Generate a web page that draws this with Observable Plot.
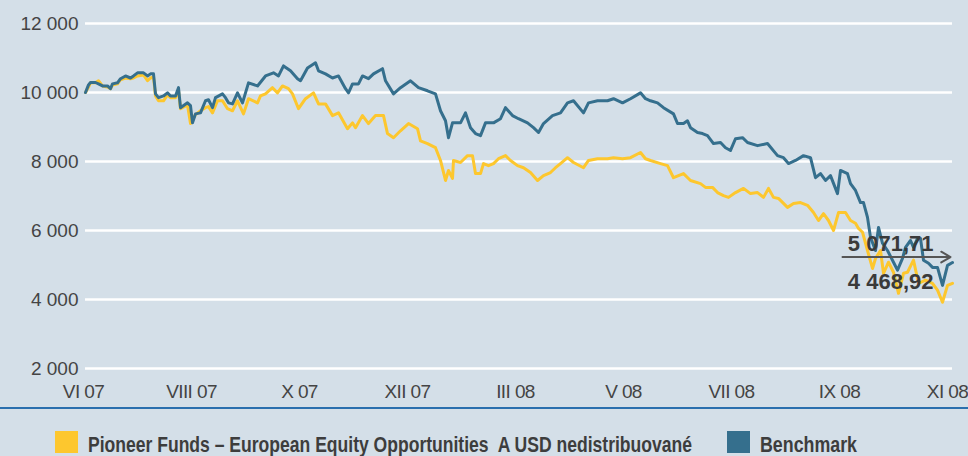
<!DOCTYPE html>
<html>
<head>
<meta charset="utf-8">
<script src="https://cdn.jsdelivr.net/npm/d3@7"></script>
<script src="https://cdn.jsdelivr.net/npm/@observablehq/plot@0.6"></script>
<style>
  html, body { margin: 0; padding: 0; background: #d4dfe8; }
  #wrap { position: relative; width: 968px; height: 456px; overflow: hidden; background: #d4dfe8; }
  #chart svg { display: block; }
  #rule { position: absolute; left: 0; top: 407px; width: 968px; height: 2px; background: #2a6fae; }
  .sw { position: absolute; top: 431px; width: 23px; height: 22px; }
  .lt { position: absolute; top: 434px; display: inline-block; font: bold 22px/22px "Liberation Sans Narrow", "Liberation Sans", sans-serif; color: #3d3d3d; white-space: pre; transform-origin: 0 0; }
</style>
</head>
<body>
<div id="wrap">
  <div id="chart"></div>
  <div id="rule"></div>
  <div class="sw" id="sw1" style="left:55px"></div>
  <span class="lt" id="lt1" style="left:88px"></span>
  <div class="sw" id="sw2" style="left:727px"></div>
  <span class="lt" id="lt2" style="left:760px"></span>
</div>
<script>
// ---- data ----
const seriesNames = ["Pioneer Funds \u2013 European Equity Opportunities  A USD nedistribuované", "Benchmark"];
const seriesColors = ["#fdc72e", "#356f8d"];

const xTicks = [0, 108, 216, 324, 432, 540, 648, 756, 864];
const xTickLabels = ["VI 07", "VIII 07", "X 07", "XII 07", "III 08", "V 08", "VII 08", "IX 08", "XI 08"];
const yTicks = [2000, 4000, 6000, 8000, 10000, 12000];

const benchX = [2,5,7,12,15,19,24,27,29,34,37,42,47,50,54,60,64,67,70,72,75,80,84,87,92,95,97,104,107,109,112,117,122,125,129,132,139,142,145,149,154,159,165,174,182,190,195,200,207,214,217,224,232,235,242,249,255,262,265,269,275,279,285,290,299,302,310,317,327,335,344,352,357,362,365,369,377,382,387,392,397,402,410,417,422,429,435,444,450,455,460,469,477,484,490,500,505,514,524,530,539,547,557,562,567,574,580,590,594,600,604,607,614,619,624,630,637,642,647,652,659,664,674,684,694,700,705,712,720,727,732,737,742,747,754,757,764,767,772,777,780,784,787,792,795,799,804,810,814,819,822,827,830,834,837,840,845,849,854,859,864,869];
const bench = [10000,10220,10290,10290,10250,10190,10190,10110,10250,10280,10400,10480,10420,10480,10570,10570,10480,10540,10540,9960,9850,9900,9990,9900,9900,10140,9560,9700,9620,9120,9380,9410,9760,9790,9560,9850,9960,9850,9700,9670,9990,9700,10280,10190,10480,10570,10480,10770,10630,10400,10340,10710,10860,10630,10540,10420,10480,10110,9990,10250,10250,10480,10400,10540,10690,10340,9960,10140,10340,10140,10050,9960,9470,9180,8690,9120,9120,9410,8980,8810,8750,9120,9120,9240,9560,9330,9240,9120,8980,8840,9100,9330,9410,9700,9760,9410,9700,9760,9760,9820,9700,9820,9990,9820,9760,9700,9560,9380,9100,9100,9180,8980,8840,8810,8750,8520,8550,8400,8320,8660,8690,8550,8460,8520,8170,8110,7940,8030,8170,8110,7530,7650,7450,7590,7070,7740,7650,7360,7160,6810,6810,6380,5800,5420,6090,5630,5420,5080,4850,5190,5510,5710,5510,5770,5770,5140,5050,4930,4930,4410,4990,5071.71];

const fundX = [2,5,7,12,15,19,24,27,29,34,37,42,47,50,54,60,64,67,70,72,75,80,84,87,92,95,97,104,107,112,117,122,125,129,134,139,144,149,154,160,165,174,177,182,189,194,199,205,209,215,222,230,235,242,249,255,264,269,272,279,285,292,300,304,310,317,325,334,337,344,352,357,362,365,369,370,377,384,389,392,397,400,405,410,415,422,427,434,440,447,454,460,467,472,477,484,490,500,505,514,524,530,539,547,557,562,567,577,584,590,600,607,617,622,629,634,640,645,652,660,667,674,680,685,690,695,704,710,717,724,730,735,740,745,750,755,762,767,772,775,779,784,789,792,797,800,805,810,815,820,824,830,835,842,849,854,859,864,869];
const fund = [10000,10160,10280,10280,10340,10190,10160,10110,10220,10250,10370,10420,10400,10420,10480,10510,10340,10420,10450,9900,9760,9760,9930,9850,9850,10050,9530,9640,9100,9360,9470,9560,9590,9410,9760,9760,9530,9470,9760,9380,9820,9700,9900,9960,10140,9990,10190,10110,9960,9530,9820,9990,9670,9670,9330,9410,8950,9120,8980,9330,9100,9330,9330,8810,8690,8890,9100,8950,8600,8520,8400,8030,7450,7740,7510,8030,7970,8170,8170,7650,7650,7940,7880,7940,8080,8170,8030,7880,7820,7680,7450,7590,7680,7820,7940,8110,7970,7820,8030,8080,8080,8110,8080,8110,8260,8080,8030,7940,7880,7530,7650,7450,7360,7250,7250,7100,7010,6960,7100,7220,7070,7100,6960,7220,6960,6930,6670,6780,6810,6730,6520,6290,6490,6290,6000,6520,6520,6290,6210,6060,5950,5420,4900,5190,5420,4760,5080,4790,4180,4760,4790,5140,4470,4560,4470,4270,3920,4410,4468.92];

// annotation: arrow from / to (x), at level (y)
const arrowFromX = 759, arrowToX = 867, arrowLevel = 5230;

// ---- build ----
const loc = d3.formatLocale({decimal: ",", thousands: " ", grouping: [3], currency: ["", ""]});
const fmtTick = loc.format(",");
const fmtVal = loc.format(",.2f");

const fundData = fundX.map((x, i) => ({x, y: fund[i]}));
const benchData = benchX.map((x, i) => ({x, y: bench[i]}));
const lastFund = fundData[fundData.length - 1];
const lastBench = benchData[benchData.length - 1];

const chart = Plot.plot({
  width: 968,
  height: 407,
  marginLeft: 83,
  marginRight: 16,
  marginTop: 23,
  marginBottom: 39,
  style: {background: "#d4dfe8", fontFamily: "'Liberation Sans', Arial, sans-serif", fontSize: "19px", color: "#444"},
  x: {domain: [0, 869]},
  y: {domain: [2000, 12000]},
  marks: [
    Plot.ruleY(yTicks, {stroke: "#ffffff", strokeWidth: 2.5, insetLeft: 2}),
    Plot.axisY({ticks: yTicks, tickFormat: fmtTick, tickSize: 0, tickPadding: 5, fill: "#444", fontSize: 19, label: null}),
    Plot.axisX({ticks: xTicks, tickFormat: (d, i) => xTickLabels[i], tickSize: 0, tickPadding: 16, fill: "#444", fontSize: 19, label: null, style: "letter-spacing:-0.6px"}),
    Plot.line(fundData, {x: "x", y: "y", stroke: seriesColors[0], strokeWidth: 3}),
    Plot.line(benchData, {x: "x", y: "y", stroke: seriesColors[1], strokeWidth: 3}),
    Plot.arrow([{x1: arrowFromX, x2: arrowToX, y: arrowLevel}], {x1: "x1", x2: "x2", y1: "y", y2: "y", stroke: "#555", strokeWidth: 2, headLength: 8}),
    Plot.text([lastBench], {x: "x", y: "y", text: d => fmtVal(d.y), textAnchor: "end", lineAnchor: "bottom", dx: -19, dy: -12, fontWeight: "bold", fontSize: 22, fill: "#3a3a3a", fontFamily: "'Liberation Sans', Arial, sans-serif"}),
    Plot.text([lastFund], {x: "x", y: "y", text: d => fmtVal(d.y), textAnchor: "end", lineAnchor: "bottom", dx: -19, dy: 6, fontWeight: "bold", fontSize: 22, fill: "#3a3a3a", fontFamily: "'Liberation Sans', Arial, sans-serif"})
  ]
});
document.getElementById("chart").appendChild(chart);
chart.querySelectorAll("[aria-label='x-axis tick label'] text, g[aria-label='x-axis tick label']").forEach(el => el.style.letterSpacing = "-0.6px");

document.getElementById("sw1").style.background = seriesColors[0];
document.getElementById("sw2").style.background = seriesColors[1];
const legendWidths = [604, 97];
["lt1", "lt2"].forEach((id, i) => {
  const el = document.getElementById(id);
  el.textContent = seriesNames[i];
  const w = el.getBoundingClientRect().width;
  if (w > 0) el.style.transform = `scaleX(${legendWidths[i] / w})`;
});
</script>
</body>
</html>
